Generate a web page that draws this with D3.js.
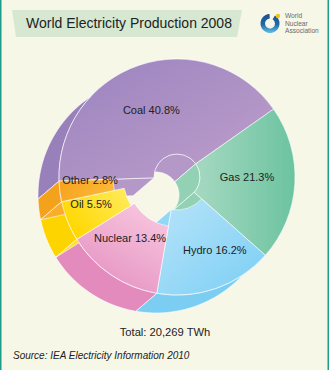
<!DOCTYPE html>
<html><head><meta charset="utf-8">
<script src="https://cdn.jsdelivr.net/npm/d3@7"></script>
<style>
html,body{margin:0;padding:0;background:#f6f7e7;}
svg{display:block;}
</style>
</head><body>
<script>
// World electricity production by source, 2008 (share of total, %)
const categories = ["Coal", "Gas", "Hydro", "Nuclear", "Oil", "Other"];
const shares = [40.8, 21.3, 16.2, 13.4, 5.5, 2.8];
const shareLabels = ["40.8%", "21.3%", "16.2%", "13.4%", "5.5%", "2.8%"];
const totalLabel = "Total: 20,269 TWh";
const titleText = "World Electricity Production 2008";
const sourceText = "Source: IEA Electricity Information 2010";
const logoLines = ["World", "Nuclear", "Association"];

const W = 330, H = 370;
const svg = d3.select("body").append("svg").attr("width", W).attr("height", H);
const defs = svg.append("defs");

// frame
svg.append("rect").attr("width", W).attr("height", H).attr("fill", "#f6f7e7");
svg.append("line").attr("x1", 0.75).attr("x2", 0.75).attr("y1", 0).attr("y2", H)
  .attr("stroke", "#1f9c8c").attr("stroke-width", 1.5);
svg.append("line").attr("x1", 328.25).attr("x2", 328.25).attr("y1", 0).attr("y2", H)
  .attr("stroke", "#1f9c8c").attr("stroke-width", 1.5);

// title banner
svg.append("path").attr("d", "M12,10 L242,10 L237,37 L16,37 Z").attr("fill", "#d6e8d1");
svg.append("text").attr("x", 26).attr("y", 28).attr("font-family", "Liberation Sans, Arial, sans-serif")
  .attr("font-size", 14).attr("fill", "#222").text(titleText);

// logo
const lg = defs.append("linearGradient").attr("id", "logoGrad").attr("x1", 0).attr("y1", 0).attr("x2", 0).attr("y2", 1);
lg.append("stop").attr("offset", 0).attr("stop-color", "#1d4f8f");
lg.append("stop").attr("offset", 0.55).attr("stop-color", "#1f6aa8");
lg.append("stop").attr("offset", 1).attr("stop-color", "#62c0e6");
svg.append("path")
  .attr("transform", "translate(270,23.5)")
  .attr("d", d3.arc().innerRadius(5).outerRadius(9.5).startAngle(0.55).endAngle(2 * Math.PI - 0.05)())
  .attr("fill", "url(#logoGrad)");
svg.append("circle").attr("cx", 278).attr("cy", 16).attr("r", 2.2).attr("fill", "#f3c21b");
svg.append("g").selectAll("text").data(logoLines).join("text")
  .attr("x", 285).attr("y", (d, i) => 18 + i * 7.5)
  .attr("font-family", "Liberation Sans, Arial, sans-serif").attr("font-size", 6.6)
  .attr("fill", "#6a6a6a").text(d => d);

// pie geometry
const cx = 177, cy = 177, R = 118;
const ext = [-21, 18];          // depth offset of the base face
const startAngle = -92 * Math.PI / 180;

const style = {
  Coal:    {ri: 23, top: ["#9a83bf", "#bf9fcb"], g: [0, 0, 1, 1], wall: "#9880ba", side: "#b498c8", lab: [72, -2.3]},
  Gas:     {ri: 23, top: ["#a6d9c1", "#6cc3a0"], g: [0, 0, 1, 0], wall: "#72c3a2", side: "#93d1b5", lab: [70, -3.2]},
  Hydro:   {ri: 33, top: ["#b8e4f9", "#7acef4"], g: [0, 0, 1, 1], wall: "#7ccdf2", side: "#92d7f5", lab: [82, -8.2]},
  Nuclear: {ri: 50, top: ["#f8c7df", "#e48fc0"], g: [0.8, 0, 0.2, 1], wall: "#e38bbd", side: "#efadcf", lab: [77, 3.6]},
  Oil:     {ri: 54, top: ["#ffec62", "#ffd700"], g: [1, 0, 0, 0.6], wall: "#fdd300", side: "#ffdf30", lab: [90, 4.6]},
  Other:   {ri: 64, top: ["#f6a11d", "#fbb838"], g: [0, 0, 1, 0.3], wall: "#f4a21c", side: "#f8ae2c", lab: [87, 5]}
};

const data = categories.map((c, i) => ({name: c, value: shares[i], label: shareLabels[i]}));
const pie = d3.pie().sort(null).value(d => d.value)
  .startAngle(startAngle).endAngle(startAngle + 2 * Math.PI);
const arcs = pie(data);

const pt = (a, r, o) => [cx + o[0] + r * Math.sin(a), cy + o[1] - r * Math.cos(a)];
const arcPts = (a0, a1, r, o) => {
  const n = Math.max(2, Math.ceil(Math.abs(a1 - a0) / 0.03));
  return d3.range(n + 1).map(k => pt(a0 + (a1 - a0) * k / n, r, o));
};
const zero = [0, 0];
const line = pts => "M" + pts.map(p => p[0].toFixed(2) + "," + p[1].toFixed(2)).join("L") + "Z";
const dot = (n) => n[0] * ext[0] + n[1] * ext[1];

// wall faces of each extruded slice; the ones facing away are painted first
const walls = [];
arcs.forEach(d => {
  const s = style[d.data.name];
  const a0 = d.startAngle, a1 = d.endAngle;
  const am = (a0 + a1) / 2;
  walls.push({front: 1, fill: s.wall,
    pts: arcPts(a0, a1, R, zero).concat(arcPts(a1, a0, R, ext))});
  const nIn = [-Math.sin(am), Math.cos(am)];
  walls.push({front: dot(nIn) > 0 ? 1 : 0, fill: s.side,
    pts: arcPts(a0, a1, s.ri, zero).concat(arcPts(a1, a0, s.ri, ext))});
  [[a0, -1], [a1, 1]].forEach(([a, sg]) => {
    const n = [sg * Math.cos(a), sg * Math.sin(a)];
    walls.push({front: dot(n) > 0 ? 1 : 0, fill: s.side,
      pts: [pt(a, s.ri, zero), pt(a, R, zero), pt(a, R, ext), pt(a, s.ri, ext)]});
  });
});
walls.sort((a, b) => a.front - b.front);

svg.append("g").selectAll("path").data(walls).join("path")
  .attr("d", d => line(d.pts))
  .attr("fill", d => d.fill)
  .attr("stroke", "#ffffff").attr("stroke-opacity", 0.85).attr("stroke-width", 0.7)
  .attr("stroke-linejoin", "round");

// top faces
arcs.forEach((d, i) => {
  const s = style[d.data.name];
  const gr = defs.append("linearGradient").attr("id", "top" + i)
    .attr("x1", s.g[0]).attr("y1", s.g[1]).attr("x2", s.g[2]).attr("y2", s.g[3]);
  gr.append("stop").attr("offset", 0).attr("stop-color", s.top[0]);
  gr.append("stop").attr("offset", 1).attr("stop-color", s.top[1]);
});
const topArc = d3.arc().outerRadius(R).innerRadius(d => style[d.data.name].ri);
svg.append("g").attr("transform", `translate(${cx},${cy})`)
  .selectAll("path").data(arcs).join("path")
  .attr("d", topArc)
  .attr("fill", (d, i) => `url(#top${i})`)
  .attr("stroke", "#ffffff").attr("stroke-opacity", 0.85).attr("stroke-width", 0.7);

// slice labels
svg.append("g").selectAll("text").data(arcs).join("text")
  .attr("transform", d => {
    const s = style[d.data.name];
    const a = (d.startAngle + d.endAngle) / 2 + s.lab[1] * Math.PI / 180;
    const p = pt(a, s.lab[0], zero);
    return `translate(${p[0]},${p[1] + 4})`;
  })
  .attr("text-anchor", "middle")
  .attr("font-family", "Liberation Sans, Arial, sans-serif").attr("font-size", 11)
  .attr("fill", "#222")
  .text(d => `${d.data.name} ${d.data.label}`);

// footer
svg.append("text").attr("x", 165).attr("y", 336).attr("text-anchor", "middle")
  .attr("font-family", "Liberation Sans, Arial, sans-serif").attr("font-size", 11.2)
  .attr("fill", "#222").text(totalLabel);
svg.append("text").attr("x", 13).attr("y", 359)
  .attr("font-family", "Liberation Sans, Arial, sans-serif").attr("font-size", 10)
  .attr("font-style", "italic").attr("fill", "#222").text(sourceText);
</script>
</body></html>
